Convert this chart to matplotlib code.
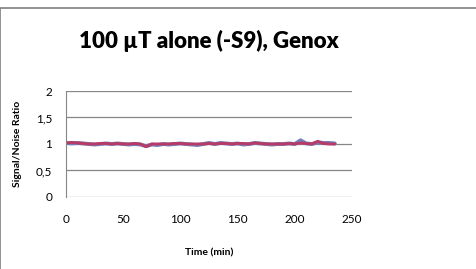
import matplotlib
matplotlib.use('Agg')
import matplotlib.pyplot as plt
from matplotlib.patches import Rectangle
import numpy as np

plt.rcParams['font.family'] = ['Lato', 'DejaVu Sans']

# time points (min) and signal/noise ratio of the two series
time_min = np.arange(0, 236, 5)
blue_vals = [1.02, 1.01, 1.02, 1.01, 1.00, 0.99, 1.00, 1.01, 1.00, 1.01,
             1.00, 0.99, 1.00, 0.99, 0.96, 0.99, 0.98, 1.00, 0.99, 1.00,
             1.01, 1.00, 0.99, 0.98, 1.00, 1.02, 1.00, 1.02, 1.01, 1.00,
             1.01, 0.99, 1.00, 1.02, 1.01, 1.00, 0.99, 1.00, 1.00, 1.01,
             1.00, 1.07, 1.01, 1.00, 1.03, 1.02, 1.02, 1.01]
red_vals = [1.02, 1.03, 1.02, 1.01, 1.00, 1.00, 1.01, 1.01, 1.00, 1.01,
            1.00, 1.00, 1.01, 1.00, 0.95, 1.00, 1.00, 1.00, 1.00, 1.01,
            1.01, 1.00, 1.00, 1.00, 1.00, 1.01, 1.00, 1.01, 1.01, 1.00,
            1.01, 1.01, 1.00, 1.02, 1.01, 1.00, 1.00, 1.00, 1.00, 1.01,
            1.00, 1.02, 1.01, 1.00, 1.05, 1.01, 1.00, 1.00]

xticks = [0, 50, 100, 150, 200, 250]
yticks = [0, 0.5, 1, 1.5, 2]
ytick_labels = ['0', '0,5', '1', '1,5', '2']

fig = plt.figure(figsize=(4.76, 2.69), dpi=100)
ax = fig.add_axes([0.1387, 0.2677, 0.6008, 0.394])

ax.plot(time_min, blue_vals, color='#7380BA', lw=2.8, solid_capstyle='round')
ax.plot(time_min, red_vals, color='#B83A66', lw=2.1, solid_capstyle='round')

ax.set_xlim(0, 250)
ax.set_ylim(0, 2)
ax.set_xticks(xticks)
ax.set_yticks(yticks)
ax.set_yticklabels(ytick_labels)
ax.tick_params(length=0, labelsize=8.5, pad=10)
ax.tick_params(axis='x', pad=12)
ax.grid(axis='y', color='#868686', lw=0.9)
ax.set_axisbelow(True)
for s in ['top', 'right', 'bottom']:
    ax.spines[s].set_visible(False)
ax.spines['left'].set_color('#868686')

ax.set_xlabel('Time (min)', fontsize=7.5, fontweight='bold', labelpad=17)
ax.set_ylabel('Signal/Noise Ratio', fontsize=7.5, fontweight='bold', labelpad=10)
ax.set_title('100 \u00b5T alone (-S9), Genox', fontsize=16, fontweight='heavy', pad=31)

# chart border
fig.patches.append(Rectangle((0.001, -0.2), 1.2, 1.2 - 8 / 269, transform=fig.transFigure,
                             fill=False, edgecolor='#7F7F7F', lw=1.2))

fig.savefig('out.png', dpi=100)
